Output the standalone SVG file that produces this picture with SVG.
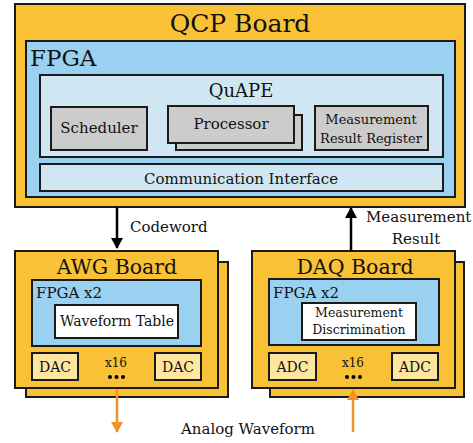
<svg xmlns="http://www.w3.org/2000/svg" width="473" height="443" viewBox="0 0 473 443">
<style>
text{font-family:"DejaVu Serif",serif;fill:#111}
.board{fill:#F9C135;stroke:#1a1a1a;stroke-width:2}
.fpga{fill:#9BD1F0;stroke:#1a1a1a;stroke-width:2}
.light{fill:#D0E7F3;stroke:#1a1a1a;stroke-width:2}
.gray{fill:#CCCCCC;stroke:#1a1a1a;stroke-width:2}
.white{fill:#FFFFFF;stroke:#1a1a1a;stroke-width:2}
.conv{fill:#FFE6A0;stroke:#1a1a1a;stroke-width:2}
.c{text-anchor:middle}
.blk{stroke:#000;stroke-width:2.5;fill:none}
.org{stroke:#F39325;stroke-width:2.5;fill:none}
</style>
<defs>
<marker id="ab" markerWidth="11" markerHeight="12" refX="10" refY="6" orient="auto" markerUnits="userSpaceOnUse"><path d="M0,0 L11,6 L0,12 Z" fill="#000"/></marker>
<marker id="ao" markerWidth="11" markerHeight="12" refX="10" refY="6" orient="auto" markerUnits="userSpaceOnUse"><path d="M0,0 L11,6 L0,12 Z" fill="#F39325"/></marker>
</defs>

<g id="qcp-board">
<rect class="board" x="15" y="4" width="450" height="203"/>
<text class="c" x="240" y="32" font-size="25">QCP Board</text>
</g>
<g id="qcp-fpga">
<rect class="fpga" x="26" y="41" width="429" height="156"/>
<text x="30" y="66" font-size="23">FPGA</text>
</g>
<g id="quape">
<rect class="light" x="40" y="75" width="403" height="82"/>
<text class="c" x="241" y="97" font-size="18">QuAPE</text>
</g>
<g id="scheduler">
<rect class="gray" x="51" y="107" width="96" height="43"/>
<text class="c" x="99" y="133" font-size="15">Scheduler</text>
</g>
<g id="processor">
<rect class="gray" x="176" y="115" width="126" height="35"/>
<rect class="gray" x="168" y="106" width="126" height="37"/>
<text class="c" x="231" y="129" font-size="15">Processor</text>
</g>
<g id="mrr">
<rect class="gray" x="315" y="106" width="113" height="44"/>
<text class="c" x="371" y="124" font-size="13">Measurement</text>
<text class="c" x="371" y="143" font-size="13">Result Register</text>
</g>
<g id="comm">
<rect class="light" x="40" y="164" width="403" height="27"/>
<text class="c" x="241" y="184" font-size="15">Communication Interface</text>
</g>

<g id="awg-board">
<rect class="board" x="26" y="262" width="202" height="135"/>
<rect class="board" x="15" y="251" width="203" height="137"/>
<text class="c" x="117" y="274" font-size="20.5">AWG Board</text>
<rect class="fpga" x="32" y="280" width="169" height="66"/>
<text x="36" y="298" font-size="15">FPGA x2</text>
<rect class="white" x="55" y="305" width="123" height="33"/>
<text class="c" x="117" y="326" font-size="14">Waveform Table</text>
<rect class="conv" x="32" y="353" width="46" height="27"/>
<text class="c" x="55" y="372" font-size="14">DAC</text>
<rect class="conv" x="155" y="353" width="46" height="27"/>
<text class="c" x="178" y="372" font-size="14">DAC</text>
<text class="c" x="116" y="367" font-size="12">x16</text>
<circle cx="110" cy="377" r="2"/><circle cx="116.5" cy="377" r="2"/><circle cx="123" cy="377" r="2"/>
</g>

<g id="daq-board">
<rect class="board" x="270" y="262" width="194" height="135"/>
<rect class="board" x="252" y="251" width="203" height="137"/>
<text class="c" x="355" y="274" font-size="20.5">DAQ Board</text>
<rect class="fpga" x="269" y="279" width="170" height="66"/>
<text x="273" y="298" font-size="15">FPGA x2</text>
<rect class="white" x="302" y="303" width="114" height="37"/>
<text class="c" x="359" y="317" font-size="12.5">Measurement</text>
<text class="c" x="359" y="334" font-size="12.5">Discrimination</text>
<rect class="conv" x="269" y="353" width="47" height="27"/>
<text class="c" x="292.5" y="372" font-size="14">ADC</text>
<rect class="conv" x="392" y="353" width="46" height="27"/>
<text class="c" x="415" y="372" font-size="14">ADC</text>
<text class="c" x="353" y="367" font-size="12">x16</text>
<circle cx="347" cy="377" r="2"/><circle cx="353.5" cy="377" r="2"/><circle cx="360" cy="377" r="2"/>
</g>

<g id="connectors">
<line class="blk" x1="117" y1="207" x2="117" y2="248" marker-end="url(#ab)"/>
<line class="blk" x1="351" y1="251" x2="351" y2="208" marker-end="url(#ab)"/>
<line class="org" x1="117" y1="389" x2="117" y2="432" marker-end="url(#ao)"/>
<line class="org" x1="353" y1="432" x2="353" y2="390" marker-end="url(#ao)"/>
<text x="130" y="232" font-size="15">Codeword</text>
<text x="366" y="222" font-size="15">Measurement</text>
<text class="c" x="416" y="244" font-size="15">Result</text>
<text class="c" x="248" y="434" font-size="15">Analog Waveform</text>
</g>
</svg>
